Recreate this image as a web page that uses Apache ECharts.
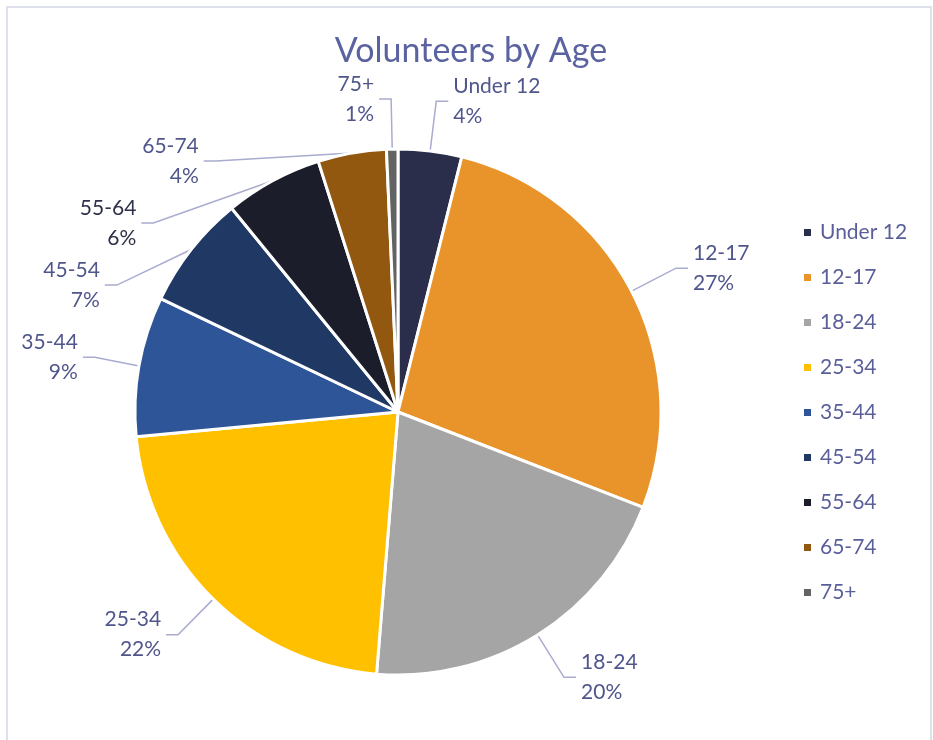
<!DOCTYPE html>
<html><head><meta charset="utf-8">
<script src="https://cdn.jsdelivr.net/npm/echarts@6/dist/echarts.min.js"></script>
<style>html,body{margin:0;padding:0;background:#fff}#c{width:933px;height:740px}</style>
</head><body><div id="c"></div>
<script>
const categories = ['Under 12','12-17','18-24','25-34','35-44','45-54','55-64','65-74','75+'];
const values = [3.9, 27.0, 20.4, 22.2, 8.6, 7.0, 6.0, 4.2, 0.7];
const colors = ['#2B2E4A','#E8942A','#A5A5A5','#FFC000','#2E5597','#203864','#1C1D2B','#935810','#636363'];
const title = 'Volunteers by Age';

const textColor = '#50568C';
const legendColor = '#5A5F99';
const font = 'Lato, "Open Sans", sans-serif';
const chart = echarts.init(document.getElementById('c'));
chart.setOption({
  backgroundColor: '#fff',
  animation: false,
  title: { text: title, left: 466, top: 29, textAlign: 'center',
    textStyle: { color: '#5A62A0', fontSize: 34, fontWeight: 'normal', fontFamily: font } },
  legend: {
    orient: 'vertical', left: 797, top: 216, itemGap: 22, itemWidth: 9, itemHeight: 9,
    icon: 'rect', data: categories,
    textStyle: { color: legendColor, fontSize: 21, lineHeight: 23, fontFamily: font, padding: [0,0,0,3] }
  },
  graphic: [{ type: 'rect', shape: { x: 7, y: 7, width: 924, height: 740 },
    style: { fill: 'none', stroke: '#D5D7E3', lineWidth: 1.5 }, silent: true }],
  series: [{
    type: 'pie', center: [398, 412], radius: 263, startAngle: 90, clockwise: true,
    data: categories.map((c, i) => ({ name: c, value: values[i], itemStyle: { color: colors[i] },
      label: c === '55-64' ? { color: '#2F3149' } : undefined })),
    itemStyle: { borderColor: '#fff', borderWidth: 3 },
    label: {
      show: true, position: 'outside', alignTo: 'none',
      formatter: p => p.name + '\n' + Math.round(p.percent) + '%',
      color: textColor, fontSize: 21, fontFamily: font, lineHeight: 30, align: 'center'
    },
    labelLine: { show: true, length: 50, length2: 12, lineStyle: { color: '#A9ABCF', width: 1.5 } },
    emphasis: { disabled: true }
  }]
});
</script></body></html>
